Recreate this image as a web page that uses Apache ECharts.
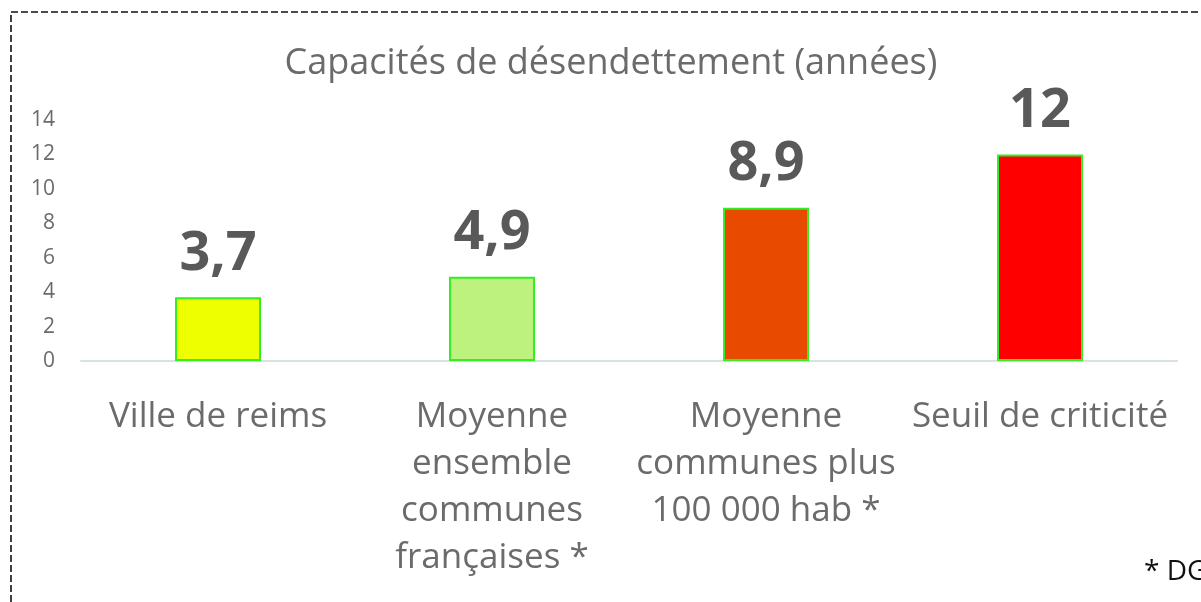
<!DOCTYPE html>
<html>
<head>
<meta charset="utf-8">
<script src="https://cdn.jsdelivr.net/npm/echarts@6/dist/echarts.min.js"></script>
<style>
html,body{margin:0;padding:0;background:#fff;}
#chart{width:1201px;height:602px;}
</style>
</head>
<body>
<div id="chart"></div>
<script>
var categories = ["Ville de reims", "Moyenne\nensemble\ncommunes\nfrançaises *", "Moyenne\ncommunes plus\n100 000 hab *", "Seuil de criticité"];
var values = [3.7, 4.9, 8.9, 12];
var barColors = ["#eeff00", "#bdf27f", "#e84a00", "#ff0000"];
var yTicks = [0, 2, 4, 6, 8, 10, 12, 14];
var titleText = "Capacités de désendettement (années)";
var noteText = "* DG";

var chart = echarts.init(document.getElementById('chart'), null, {renderer: 'canvas'});
var font = "'Open Sans', sans-serif";
chart.setOption({
  backgroundColor: '#ffffff',
  animation: false,
  title: {
    text: titleText,
    left: 606, top: 41, textAlign: 'center',
    textStyle: {fontFamily: font, fontSize: 36, fontWeight: 'normal', color: '#6b6b6b'}
  },
  graphic: [
    {type: 'rect', shape: {x: 11, y: 12, width: 1300, height: 700}, style: {fill: 'none', stroke: '#111', lineWidth: 1.6, lineDash: [7, 3]}, silent: true},
    {type: 'text', left: 1144, top: 558, style: {text: noteText, font: "28px 'Open Sans', sans-serif", fill: '#111'}}
  ],
  grid: {left: 81, right: 24, top: 120, bottom: 241, containLabel: false},
  xAxis: {
    type: 'category',
    data: categories,
    axisLine: {lineStyle: {color: '#d9e2e2', width: 2}},
    axisTick: {show: false},
    axisLabel: {interval: 0, margin: 33, fontFamily: font, fontSize: 35, lineHeight: 47, color: '#6b6b6b'}
  },
  yAxis: {
    type: 'value', min: 0, max: 14, interval: 2,
    splitLine: {show: false},
    axisLine: {show: false}, axisTick: {show: false},
    axisLabel: {margin: 26, fontFamily: font, fontSize: 21, color: '#6b6b6b',
      formatter: function (v) { return yTicks.indexOf(v) >= 0 ? String(v) : ''; }}
  },
  series: [{
    type: 'bar',
    barWidth: 86,
    data: values.map(function (v, i) {
      return {value: v, itemStyle: {color: barColors[i], borderColor: '#33ee22', borderWidth: 2}};
    }),
    label: {
      show: true, position: 'top', distance: 16,
      fontFamily: font, fontSize: 54, fontWeight: 'bold', color: '#595959', lineHeight: 54,
      formatter: function (p) { return String(p.value).replace('.', ','); }
    }
  }]
});
</script>
</body>
</html>
